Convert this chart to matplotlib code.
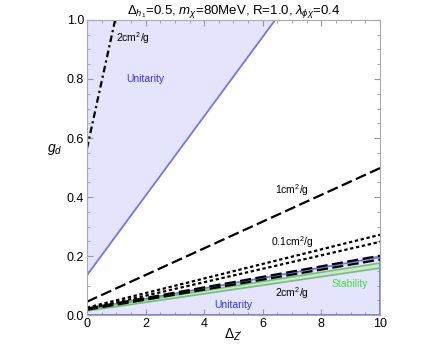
import numpy as np
import matplotlib
matplotlib.use("Agg")
import matplotlib.pyplot as plt
from matplotlib.ticker import MultipleLocator

plt.rcParams["font.family"] = ["Liberation Sans", "DejaVu Sans"]
plt.rcParams["mathtext.fontset"] = "custom"
plt.rcParams["mathtext.rm"] = "Liberation Sans"
plt.rcParams["mathtext.it"] = "Liberation Sans:italic"

# ----------------------------------
# Data (g_d vs Delta_Z')
# ----------------------------------
x_ends = [0, 10]

# upper unitarity region corners
unit_up_x = [0, 6.42, 0]
unit_up_y = [0.135, 1.0, 1.0]

# lower unitarity boundary
unit_low_y = [0.02, 0.196]

# cross-section contours (values at x=0 and x=10)
sig2_upper_x = [0, 0.96]
sig2_upper_y = [0.565, 1.0]
sig1_y = [0.045, 0.498]
sig01_a_y = [0.025, 0.272]
sig01_b_y = [0.02, 0.248]
sig2_a_y = [0.022, 0.201]
sig2_b_y = [0.018, 0.188]

# stability band
stab_top_y = [0.02, 0.176]
stab_bot_y = [0.014, 0.159]

fill_c = "#e4e4fc"
blue_c = "#7474ee"
green_c = "#6cc46c"

fig = plt.figure(figsize=(4.36, 3.49), dpi=100)
ax = fig.add_axes([0.1995, 0.0974, 0.6721, 0.8453])

ax.fill(unit_up_x, unit_up_y, color=fill_c, lw=0)
ax.plot(unit_up_x[:2], unit_up_y[:2], color=blue_c, lw=1.3)

ax.fill_between(x_ends, unit_low_y, 0, color=fill_c, lw=0)
ax.plot(x_ends, unit_low_y, color=blue_c, lw=1.3)
ax.plot([10, 10], [0, unit_low_y[1]], color=blue_c, lw=1.3)
ax.plot([0, 10], [0.001, 0.001], color=blue_c, lw=1.3)

ax.fill_between(x_ends, stab_bot_y, stab_top_y, color="#d3e3d9", lw=0)
ax.plot(x_ends, stab_top_y, color=green_c, lw=1.2)
ax.plot(x_ends, stab_bot_y, color=green_c, lw=1.2)

ax.plot(sig2_upper_x, sig2_upper_y, color="black", lw=1.6, ls=(0, (3, 1.5, 1, 1.5)))
ax.plot(x_ends, sig1_y, color="black", lw=1.6, ls=(0, (5, 2)))
ax.plot(x_ends, sig01_a_y, color="black", lw=1.6, ls=(0, (1.5, 1.2)))
ax.plot(x_ends, sig01_b_y, color="black", lw=1.6, ls=(0, (1.5, 1.2)))
ax.plot(x_ends, sig2_a_y, color="black", lw=1.6, ls=(0, (5, 2)))
ax.plot(x_ends, sig2_b_y, color="black", lw=1.6, ls=(0, (5, 2)))

fs = 7.5
ax.text(1.0, 0.94, "2cm$^2$/g", fontsize=fs, ha="left", va="center")
ax.text(1.98, 0.80, "Unitarity", fontsize=fs, color="#3333ee", ha="center", va="center")
ax.text(7.0, 0.424, "1cm$^2$/g", fontsize=fs, ha="center", va="center")
ax.text(7.0, 0.247, "0.1cm$^2$/g", fontsize=fs, ha="center", va="center")
ax.text(7.0, 0.075, "2cm$^2$/g", fontsize=fs, ha="center", va="center")
ax.text(8.98, 0.105, "Stability", fontsize=fs, color="#44dd44", ha="center", va="center")
ax.text(4.98, 0.034, "Unitarity", fontsize=fs, color="#3333ee", ha="center", va="center")

ax.set_xlim(0, 10)
ax.set_ylim(0, 1)
ax.xaxis.set_major_locator(MultipleLocator(2))
ax.xaxis.set_minor_locator(MultipleLocator(0.5))
ax.yaxis.set_major_locator(MultipleLocator(0.2))
ax.yaxis.set_minor_locator(MultipleLocator(0.05))
ax.set_yticklabels([f"{v:.1f}" for v in ax.get_yticks()])
ax.tick_params(which="both", direction="in", top=True, right=True, color="#999999", labelsize=9)
ax.tick_params(which="major", length=4, pad=2)
ax.tick_params(which="minor", length=2)
for s in ax.spines.values():
    s.set_color("#aaaaaa")

ax.set_xlabel("$\\Delta_{Z'}$", fontsize=10)
ax.set_ylabel("$g_d$", fontsize=10, rotation=0)
ax.xaxis.set_label_coords(0.5, -0.068)
ax.yaxis.set_label_coords(-0.109, 0.56)
ax.xaxis.label.set_va("center")
ax.yaxis.label.set_va("center")
ax.set_title("$\\Delta_{h_1}$=0.5, $m_\\chi$=80MeV, R=1.0, $\\lambda_{\\phi\\chi}$=0.4", fontsize=9.5, pad=4)

fig.savefig("out.png", dpi=100)
